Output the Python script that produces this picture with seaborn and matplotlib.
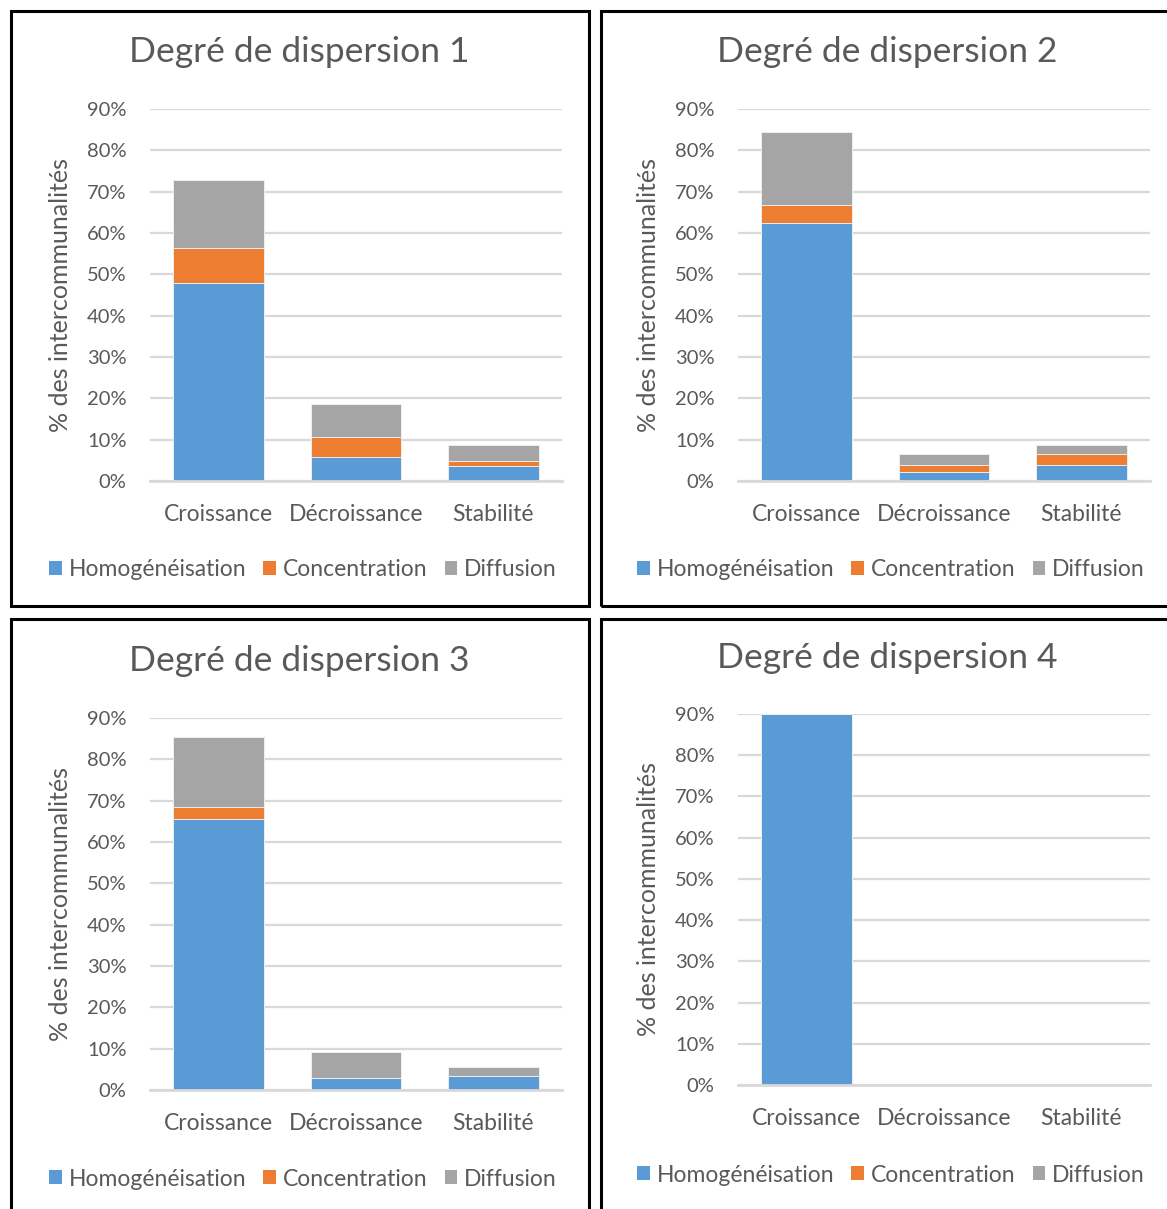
import numpy as np
import pandas as pd
import matplotlib
matplotlib.use("Agg")
import matplotlib.pyplot as plt
import seaborn as sns
from matplotlib.patches import Rectangle, Patch
from matplotlib.ticker import PercentFormatter

# data (percent of intercommunalities)
categories = ["Croissance", "Décroissance", "Stabilité"]
series_names = ["Homogénéisation", "Concentration", "Diffusion"]

homog_1 = [47.9, 5.7, 3.6]
conc_1 = [8.4, 5.0, 1.3]
diff_1 = [16.6, 7.9, 3.7]

homog_2 = [62.5, 2.2, 3.8]
conc_2 = [4.2, 1.6, 2.7]
diff_2 = [17.8, 2.7, 2.3]

homog_3 = [65.5, 3.0, 3.5]
conc_3 = [3.0, 0.0, 0.0]
diff_3 = [17.0, 6.1, 2.0]

homog_4 = [90.0, 0.0, 0.0]
conc_4 = [0.0, 0.0, 0.0]
diff_4 = [0.0, 0.0, 0.0]

titles = ["Degré de dispersion 1", "Degré de dispersion 2",
          "Degré de dispersion 3", "Degré de dispersion 4"]

COLORS = ["#5B9BD5", "#ED7D31", "#A5A5A5"]
TXT = "#595959"
GRID = "#D9D9D9"

W, H = 1167, 1209


def fx(x):
    return x / W


def fy(y):
    return 1 - y / H


def draw_panel(fig, box, homog, conc, diff, title, title_y, ylab_x, leg_x, leg_y):
    left, right, top, bottom = box
    ax = fig.add_axes([fx(left), fy(bottom), fx(right - left), (bottom - top) / H])
    df = pd.DataFrame({"cat": categories,
                       "h": homog,
                       "c": conc,
                       "d": diff})
    df["hc"] = df.h + df.c
    df["hcd"] = df.hc + df.d
    # stacked look: draw totals first, then partial sums on top
    for col, color in [("hcd", COLORS[2]), ("hc", COLORS[1]), ("h", COLORS[0])]:
        sns.barplot(data=df, x="cat", y=col, color=color, width=0.66,
                    saturation=1, edgecolor="#EEEEEE", linewidth=0.7, ax=ax)
    ax.set_ylim(0, 90)
    ax.set_yticks(np.arange(0, 91, 10))
    ax.yaxis.set_major_formatter(PercentFormatter(100, decimals=0))
    ax.set_xlim(-0.5, 2.5)
    ax.yaxis.grid(True, color=GRID, linewidth=1.6)
    ax.set_axisbelow(True)
    for s in ["top", "right", "left"]:
        ax.spines[s].set_visible(False)
    ax.spines["bottom"].set_color(GRID)
    ax.spines["bottom"].set_linewidth(2)
    ax.tick_params(axis="y", length=0, pad=17, labelsize=14.5, labelcolor=TXT)
    ax.tick_params(axis="x", length=0, pad=16.5, labelsize=16.5, labelcolor=TXT)
    ax.set_xlabel("")
    ax.set_ylabel("")

    fig.text(fx((left + right) / 2 - 57), fy(title_y), title, ha="center", va="center",
             fontsize=25.5, color=TXT)
    fig.text(fx(ylab_x), fy((top + bottom) / 2), "% des intercommunalités",
             rotation=90, ha="center", va="center", fontsize=18, color=TXT)

    handles = [Patch(facecolor=c, edgecolor="none", label=n)
               for c, n in zip(COLORS, series_names)]
    ax.legend(handles=handles, loc="center", ncol=3, frameon=False,
              bbox_to_anchor=(fx(leg_x), fy(leg_y)), bbox_transform=fig.transFigure,
              fontsize=16.5, labelcolor=TXT, handlelength=0.55, handleheight=0.55,
              handletextpad=0.3, columnspacing=0.75, borderaxespad=0)
    return ax


sns.set_theme(style="white")
plt.rcParams["font.family"] = ["Lato", "DejaVu Sans"]

fig = plt.figure(figsize=(W / 100, H / 100), dpi=100)
fig.patch.set_facecolor("white")

# panel frames
for x0, y0, x1, y1 in [(10.5, 11, 589, 606), (601, 11, 1200, 606),
                       (10.5, 619, 589, 1240), (601, 619, 1200, 1240)]:
    fig.add_artist(Rectangle((fx(x0), fy(y1)), fx(x1 - x0), (y1 - y0) / H,
                             transform=fig.transFigure, fill=False,
                             edgecolor="black", linewidth=2.2, clip_on=False))

draw_panel(fig, (150, 562, 109, 481), homog_1, conc_1, diff_1, titles[0], 52, 61, 303, 570)
draw_panel(fig, (738, 1150, 109, 481), homog_2, conc_2, diff_2, titles[1], 52, 649, 891, 570)
draw_panel(fig, (150, 562, 718, 1090), homog_3, conc_3, diff_3, titles[2], 661, 61, 303, 1179)
draw_panel(fig, (738, 1150, 714, 1085), homog_4, conc_4, diff_4, titles[3], 658, 649, 891, 1175)

fig.savefig("out.png", dpi=100)
